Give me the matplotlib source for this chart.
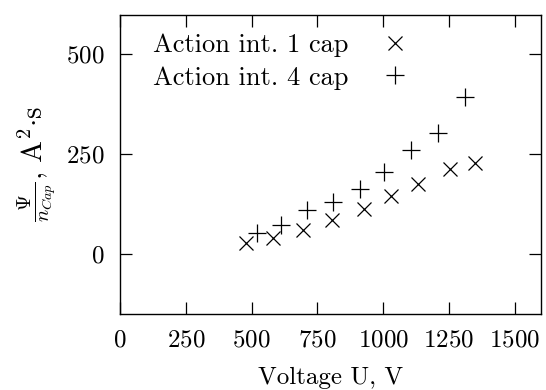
#!/usr/bin/env python3

import matplotlib

matplotlib.use("Agg")

import matplotlib.pyplot as plt


# Action integral per capacitor
voltage_1cap = [479, 580, 695, 804, 929, 1030, 1133, 1255, 1348]
action_1cap = [28, 39, 59, 86, 113, 144, 176, 212, 227]

voltage_4cap = [520, 612, 712, 810, 912, 1004, 1107, 1210, 1311]
action_4cap = [53, 73, 111, 129, 163, 205, 260, 303, 393]

x_ticks = [0, 250, 500, 750, 1000, 1250, 1500]
y_ticks = [0, 250, 500]


def main() -> None:
    plt.rcParams["font.family"] = ["cmr10", "DejaVu Serif"]
    plt.rcParams["mathtext.fontset"] = "cm"
    plt.rcParams["axes.formatter.use_mathtext"] = True
    plt.rcParams["font.size"] = 18

    width, height = 546, 390
    figure = plt.figure(figsize=(width / 100, height / 100), dpi=100)
    left, right, top, bottom = 120, 541, 14.5, 313.7
    axis = figure.add_axes(
        [left / width, 1 - bottom / height, (right - left) / width, (bottom - top) / height]
    )

    axis.plot(
        voltage_1cap, action_1cap, linestyle="none", marker="x",
        markersize=10, markeredgewidth=0.9, color="black",
        label="Action int. 1 cap",
    )
    axis.plot(
        voltage_4cap, action_4cap, linestyle="none", marker="+",
        markersize=13, markeredgewidth=0.9, color="black",
        label="Action int. 4 cap",
    )

    axis.set_xlim(0, 1600)
    axis.set_ylim(-150, 600)
    axis.set_xticks(x_ticks)
    axis.set_yticks(y_ticks)
    axis.tick_params(
        direction="in", length=8.7, width=0.9, top=True, right=True, pad=11,
    )
    for spine in axis.spines.values():
        spine.set_linewidth(1.0)

    axis.set_xlabel("Voltage U, V", labelpad=11)
    axis.set_ylabel(
        r"$\frac{\Psi}{n_{Cap}}$, A$^2{\cdot}$s", fontsize=21, labelpad=6
    )

    axis.legend(
        loc="upper left", bbox_to_anchor=(33 / (right - left), 1 - 19 / (bottom - top)),
        frameon=False, markerfirst=False, borderpad=0, borderaxespad=0,
        handlelength=1.0, handletextpad=1.28, labelspacing=0.33, fontsize=19,
    )

    figure.savefig("out.png", dpi=100)
    plt.close(figure)


if __name__ == "__main__":
    main()
